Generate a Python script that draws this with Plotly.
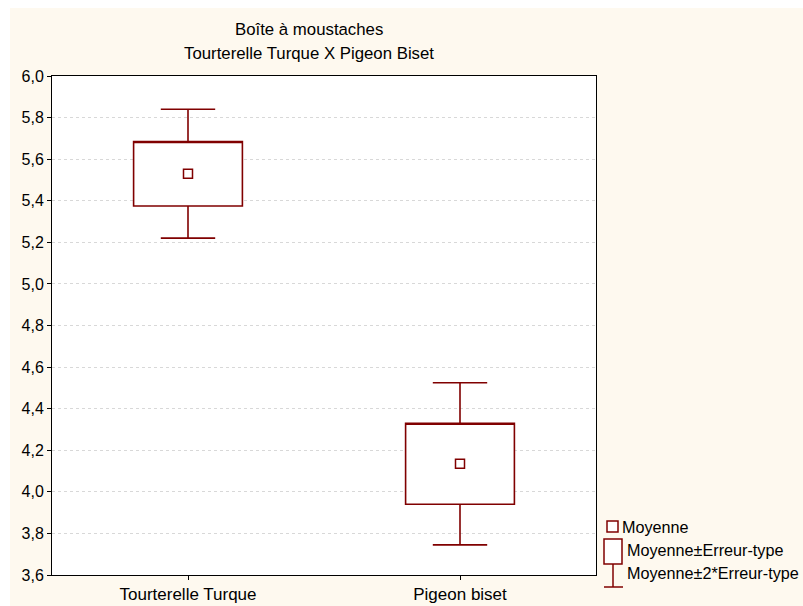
import plotly.graph_objects as go

categories = ["Tourterelle Turque", "Pigeon biset"]
means = [5.53, 4.135]
std_errors = [0.155, 0.195]
y_ticks = [3.6, 3.8, 4.0, 4.2, 4.4, 4.6, 4.8, 5.0, 5.2, 5.4, 5.6, 5.8, 6.0]

q1 = [m - s for m, s in zip(means, std_errors)]
q3 = [m + s for m, s in zip(means, std_errors)]
lo = [m - 2 * s for m, s in zip(means, std_errors)]
hi = [m + 2 * s for m, s in zip(means, std_errors)]

RED = "#800000"
CREAM = "#fef9ef"
FONT = "Liberation Sans, Arial, sans-serif"

fig = go.Figure()
fig.add_trace(go.Box(
    x=categories, q1=q1, q3=q3, median=q3, lowerfence=lo, upperfence=hi,
    width=0.4, whiskerwidth=0.5, fillcolor="white",
    line=dict(color=RED, width=1.6), boxpoints=False, showlegend=False,
    hoverinfo="skip",
))
fig.add_trace(go.Scatter(
    x=categories, y=means, mode="markers",
    marker=dict(symbol="square-open", size=9, color=RED, line=dict(width=1.5, color=RED)),
    showlegend=False,
))

W, H = 803, 606
L, R, T, B = 52, 207, 76, 31
pw, ph = W - L - R, H - T - B

def px(fx):
    return (fx - L) / pw

def py(fy):
    return (H - B - fy) / ph

shapes = [
    # white page margins (top / left strips)
    dict(type="rect", xref="paper", yref="paper", x0=px(0), x1=px(W), y0=py(0), y1=py(8),
         line=dict(width=0), fillcolor="white"),
    dict(type="rect", xref="paper", yref="paper", x0=px(0), x1=px(10), y0=py(0), y1=py(H),
         line=dict(width=0), fillcolor="white"),
    # custom legend icons
    dict(type="rect", xref="paper", yref="paper", x0=px(607), x1=px(618), y0=py(532), y1=py(521),
         line=dict(color=RED, width=1.5), fillcolor="white"),
    dict(type="rect", xref="paper", yref="paper", x0=px(604), x1=px(622), y0=py(564), y1=py(539),
         line=dict(color=RED, width=1.5), fillcolor="white"),
    dict(type="line", xref="paper", yref="paper", x0=px(613), x1=px(613), y0=py(564), y1=py(587),
         line=dict(color=RED, width=1.5)),
    dict(type="line", xref="paper", yref="paper", x0=px(604), x1=px(623), y0=py(587), y1=py(587),
         line=dict(color=RED, width=1.5)),
]

legend_texts = ["Moyenne", "Moyenne±Erreur-type", "Moyenne±2*Erreur-type"]
legend_pos = [(620, 527), (625, 550), (625, 573)]
annotations = []
for t, (ax, ay) in zip(legend_texts, legend_pos):
    annotations.append(dict(text=t, xref="paper", yref="paper", x=px(ax), y=py(ay),
                            xanchor="left", yanchor="middle", showarrow=False,
                            font=dict(size=16.2, color="black", family=FONT)))
title_lines = ["Boîte à moustaches", "Tourterelle Turque X Pigeon Biset"]
for t, ty in zip(title_lines, [30, 53]):
    annotations.append(dict(text=t, xref="paper", yref="paper", x=px(308.5), y=py(ty),
                            xanchor="center", yanchor="middle", showarrow=False,
                            font=dict(size=16.8, color="black", family=FONT)))

fig.update_layout(
    width=W, height=H,
    margin=dict(l=L, r=R, t=T, b=B, pad=0),
    paper_bgcolor=CREAM, plot_bgcolor="white",
    separators=", ",
    font=dict(family=FONT, size=16, color="black"),
    shapes=shapes, annotations=annotations,
    showlegend=False,
)
fig.update_xaxes(
    range=[-0.5, 1.5], showgrid=False, showline=True, mirror=True, automargin=False,
    linecolor="black", linewidth=1, ticks="outside", ticklen=4, tickcolor="black",
    tickfont=dict(size=17), zeroline=False,
)
fig.update_yaxes(
    range=[3.6, 6.0], tickvals=y_ticks, tickformat=".1f", automargin=False,
    showgrid=True, gridcolor="#d8d8d8", griddash="dot", gridwidth=1,
    showline=True, mirror=True, linecolor="black", linewidth=1,
    ticks="outside", ticklen=4, tickcolor="black", tickfont=dict(size=16),
    zeroline=False,
)

fig.write_html(
    "out.html",
    config={"displayModeBar": False},
    post_script="document.body.style.margin='0';document.documentElement.style.overflow='hidden';",
)
